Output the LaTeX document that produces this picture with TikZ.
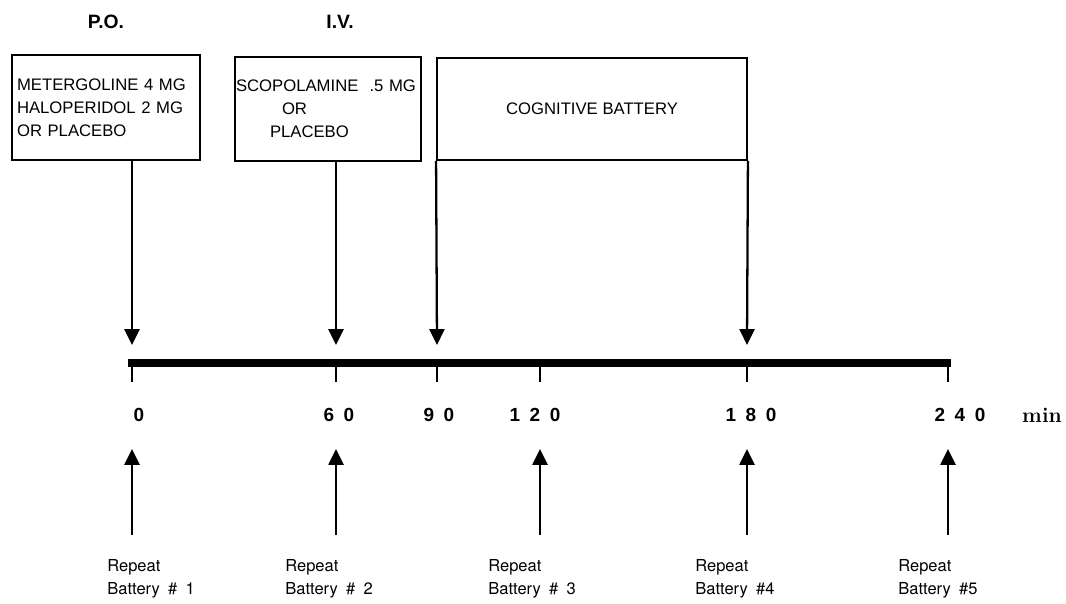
\documentclass[tikz,border=0pt]{standalone}
\usepackage{fontspec}
\usetikzlibrary{arrows.meta}
\newfontfamily\arialfont{Liberation Sans}
\newfontfamily\digitfont[LetterSpace=50]{Liberation Sans}
\newfontfamily\repfont[WordSpace=1.8]{TeX Gyre Heros}

\begin{document}
\begin{tikzpicture}[x=0.02cm, y=-0.02cm,
  box/.style={draw, line width=1.1pt, inner sep=0pt, font=\arialfont\fontsize{9.5}{13}\selectfont},
  arr/.style={line width=1.3pt, -{Triangle[length=9pt,width=8.5pt]}},
  route/.style={font=\arialfont\bfseries\fontsize{11}{12}\selectfont},
  num/.style={font=\digitfont\bfseries\fontsize{10.8}{12}\selectfont},
  rep/.style={anchor=north west, align=left, inner sep=0pt, font=\repfont\fontsize{9.4}{13}\selectfont}]

  \useasboundingbox (0,0) rectangle (1066,603);

  % route of the dose
  \node[route] (po) at (106,22) {P.O.};
  \node[route] (iv) at (340,22) {I.V.};

  % drug boxes
  \node[box, minimum width=3.76cm, minimum height=2.1cm, text width=3.56cm, align=left]
    (metergoline) at (106,107.5) {METERGOLINE 4 MG\\HALOPERIDOL 2 MG\\OR PLACEBO};
  \node[box, minimum width=3.72cm, minimum height=2.08cm, text width=3.68cm, align=left]
    (scopolamine) at (328,109) {SCOPOLAMINE \ .5 MG\\\hspace*{0.92cm}OR\\\hspace*{0.68cm}PLACEBO};
  \node[box, minimum width=6.2cm, minimum height=2.04cm]
    (cognitive) at (592,109) {COGNITIVE BATTERY};

  % arrows down to the time line
  \coordinate (d0) at (132,345);
  \coordinate (d60) at (336,345);
  \coordinate (d90) at (437,345);
  \coordinate (d180) at (747,345);
  \draw[arr] (metergoline.south -| d0) -- (d0);
  \draw[arr] (scopolamine.south -| d60) -- (d60);
  \draw[arr] (cognitive.south west) -- (d90);
  \draw[arr] (cognitive.south east) -- (d180);

  % time line, ticks and minutes
  \draw[line width=5pt] (128,363) -- (951,363);
  \foreach \x/\t/\nx in {132/0/139, 336/60/339, 437/90/439, 540/120/535, 747/180/751, 948/240/960} {
    \draw[line width=1.1pt] (\x,367) -- (\x,382);
    \node[num] (n\t) at (\nx,415) {\t};
  }
  \node[font=\bfseries\fontsize{12}{13}\selectfont] (unit) at (1042,415) {min};

  % repeat battery arrows
  \foreach \i/\x/\lx/\b in {1/132/107/{\# 1}, 2/336/285/{\# 2}, 3/540/488/{\# 3}, 4/747/695/{\#4}, 5/948/898/{\#5}} {
    \coordinate (u\i) at (\x,535);
    \coordinate (v\i) at (\x,449);
    \draw[arr] (u\i) -- (v\i);
    \node[rep] (r\i) at (\lx,559) {Repeat\\Battery \b};
  }
\end{tikzpicture}
\end{document}
